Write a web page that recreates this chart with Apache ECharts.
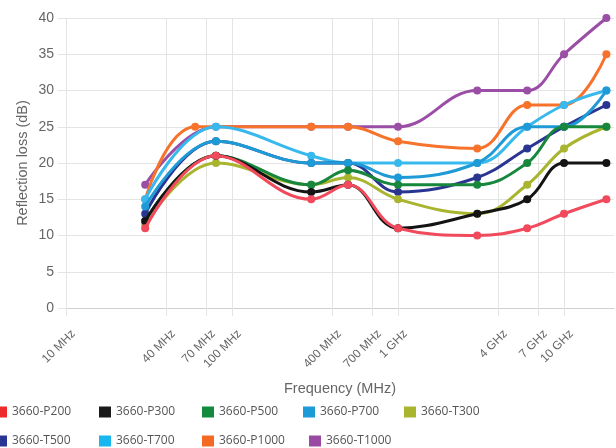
<!DOCTYPE html>
<html>
<head>
<meta charset="utf-8">
<script src="https://cdn.jsdelivr.net/npm/echarts@6/dist/echarts.min.js"></script>
<style>
  html, body { margin: 0; padding: 0; background: #fff; }
  #chart { width: 616px; height: 448px; }
</style>
</head>
<body>
<div id="chart"></div>
<script>
// Frequencies in MHz
const freqs = [30, 80, 300, 500, 1000, 3000, 6000, 10000, 18000];
const freqsP1000 = [30, 60, 300, 500, 1000, 3000, 6000, 10000, 18000];

const seriesNames = ['3660-P200', '3660-P300', '3660-P500', '3660-P700', '3660-T300',
                     '3660-T500', '3660-T700', '3660-P1000', '3660-T1000'];

const P200  = [11, 21, 15, 17, 11, 10, 11, 13, 15];
const P300  = [12, 21, 16, 17, 11, 13, 15, 20, 20];
const P500  = [12, 21, 17, 19, 17, 17, 20, 25, 25];
const P700  = [14, 23, 20, 20, 18, 20, 25, 25, 30];
const T300  = [11.5, 20, 17, 18, 15, 13, 17, 22, 25];
const T500  = [13, 23, 20, 20, 16, 18, 22, 25, 28];
const T700  = [15, 25, 21, 20, 20, 20, 25, 28, 30];
const P1000 = [15, 25, 25, 25, 23, 22, 28, 28, 35];
const T1000 = [17, 25, 25, 25, 25, 30, 30, 35, 40];

const tickFreqs  = [10, 40, 70, 100, 400, 700, 1000, 4000, 7000, 10000];
const tickLabels = ['10 MHz', '40 MHz', '70 MHz', '100 MHz', '400 MHz', '700 MHz',
                    '1 GHz', '4 GHz', '7 GHz', '10 GHz'];
const yTicks = [0, 5, 10, 15, 20, 25, 30, 35, 40];

const lineColors   = ['#f04a5c', '#141414', '#16873c', '#1e9ad6', '#a9b52e',
                      '#2a3591', '#38b9ee', '#f7722b', '#9b4ea6'];
const legendColors = ['#ee2b2b', '#1a1a1a', '#138a3e', '#1c9bd7', '#a9b52e',
                      '#283592', '#1ab6ef', '#f46a25', '#9a4aa2'];

const seriesValues = [P200, P300, P500, P700, T300, T500, T700, P1000, T1000];
const seriesFreqs  = [freqs, freqs, freqs, freqs, freqs, freqs, freqs, freqsP1000, freqs];

const lg = v => Math.log10(v);
const tickLogs = tickFreqs.map(lg);
const gridColor = '#e4e4e4';

const series = seriesNames.map((name, i) => ({
  name: name,
  type: 'line',
  smooth: 0.4,
  z: 20 - i,
  symbol: 'circle',
  symbolSize: 8,
  lineStyle: { width: 3, color: lineColors[i] },
  itemStyle: { color: lineColors[i] },
  data: seriesValues[i].map((v, k) => [lg(seriesFreqs[i][k]), v])
}));

// vertical grid lines (with the small tick below the axis) and rotated labels
series.push({
  type: 'custom',
  name: 'grid',
  z: 1,
  silent: true,
  clip: false,
  encode: { x: 0, y: 1 },
  data: tickLogs.map((t, k) => [t, 0, k]),
  renderItem: function (params, api) {
    const x = api.value(0);
    const k = api.value(2);
    const p0 = api.coord([x, yTicks[0]]);
    const p1 = api.coord([x, yTicks[yTicks.length - 1]]);
    const px = Math.round(p0[0]) + 0.5;
    return {
      type: 'group',
      children: [
        {
          type: 'line',
          shape: { x1: px, y1: p0[1] + 8, x2: px, y2: p1[1] },
          style: { stroke: gridColor, lineWidth: 1 }
        },
        {
          type: 'text',
          x: px + 7,
          y: p0[1] + 24,
          rotation: Math.PI / 4,
          style: {
            text: tickLabels[k],
            align: 'right',
            verticalAlign: 'middle',
            fontFamily: 'Liberation Sans',
            fontSize: 12,
            fill: '#666'
          }
        }
      ]
    };
  }
});

const legendPos = [
  [-5, 406], [99, 406], [202, 406], [303, 406], [404, 406],
  [-5, 435], [99, 435], [202, 435], [309, 435]
];
const legends = seriesNames.map((name, i) => ({
  data: [{ name: name, itemStyle: { color: legendColors[i] } }],
  left: legendPos[i][0],
  top: legendPos[i][1],
  padding: 0,
  icon: 'rect',
  itemWidth: 12,
  itemHeight: 11,
  selectedMode: false,
  textStyle: { fontFamily: 'Open Sans', fontSize: 12, color: '#555' }
}));

const chart = echarts.init(document.getElementById('chart'), null, { renderer: 'canvas' });
chart.setOption({
  animation: false,
  backgroundColor: '#fff',
  grid: { left: 66, right: 2, top: 18, bottom: 140, containLabel: false },
  legend: legends,
  xAxis: {
    type: 'value',
    min: lg(10),
    max: lg(20000),
    name: 'Frequency (MHz)',
    nameLocation: 'middle',
    nameGap: 73,
    nameMoveOverlap: false,
    nameTextStyle: { fontFamily: 'Liberation Sans', fontSize: 14.5, color: '#666' },
    axisLine: { show: true, lineStyle: { color: '#cfcfcf', width: 1 } },
    axisTick: { show: false },
    splitLine: { show: false },
    axisLabel: { show: false }
  },
  yAxis: {
    type: 'value',
    min: 0,
    max: 40,
    interval: 5,
    name: 'Reflection loss (dB)',
    nameLocation: 'middle',
    nameGap: 36,
    nameMoveOverlap: false,
    nameTextStyle: { fontFamily: 'Liberation Sans', fontSize: 14.5, color: '#666' },
    axisLine: { show: true, lineStyle: { color: gridColor } },
    axisTick: { show: true, length: 8, lineStyle: { color: gridColor } },
    splitLine: { show: true, lineStyle: { color: gridColor, width: 1 } },
    axisLabel: {
      margin: 12,
      fontFamily: 'Liberation Sans',
      fontSize: 14,
      color: '#666',
      formatter: function (v) { return yTicks.indexOf(v) >= 0 ? String(v) : ''; }
    }
  },
  series: series
});
</script>
</body>
</html>
